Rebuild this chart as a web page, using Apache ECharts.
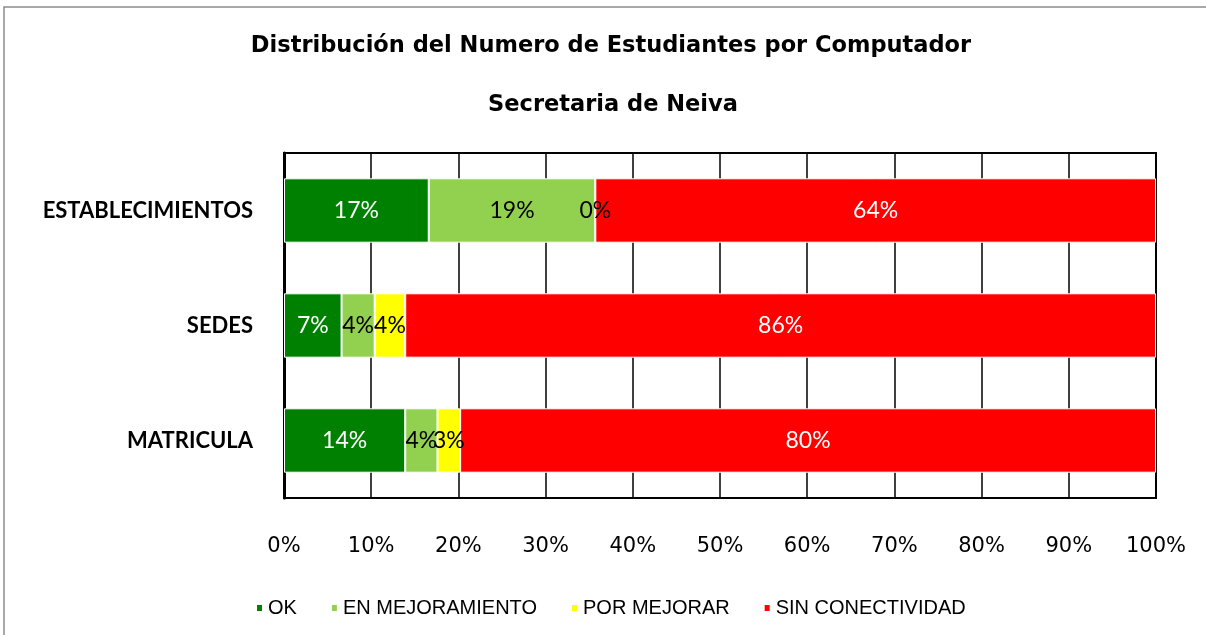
<!DOCTYPE html>
<html>
<head>
<meta charset="utf-8">
<script src="https://cdn.jsdelivr.net/npm/echarts@6/dist/echarts.min.js"></script>
<style>
  html, body { margin: 0; padding: 0; background: #fff; }
  #chart { width: 1206px; height: 635px; }
</style>
</head>
<body>
<div id="chart"></div>
<script>
// rows, top to bottom
var categories = ['ESTABLECIMIENTOS', 'SEDES', 'MATRICULA'];
var seriesNames = ['OK', 'EN MEJORAMIENTO', 'POR MEJORAR', 'SIN CONECTIVIDAD'];
// percent shares
var okValues = [16.6, 6.6, 13.9];
var enMejValues = [19.1, 3.8, 3.7];
var porMejValues = [0.0, 3.5, 2.6];
var sinConValues = [64.3, 86.1, 79.8];
var xTicks = [0, 10, 20, 30, 40, 50, 60, 70, 80, 90, 100];

var colors = ['#008000', '#92D050', '#FFFF00', '#FF0000'];
var labelColors = ['#fff', '#000', '#000', '#fff'];
var allValues = [okValues, enMejValues, porMejValues, sinConValues];

var myChart = echarts.init(document.getElementById('chart'));

var series = [];
for (var i = 0; i < seriesNames.length; i++) {
  series.push({
    name: seriesNames[i],
    type: 'bar',
    stack: 'total',
    barCategoryGap: '44%',
    data: allValues[i],
    itemStyle: { color: colors[i], borderColor: '#fff', borderWidth: 1 },
    label: {
      show: true,
      position: 'inside',
      color: labelColors[i],
      fontFamily: 'Lato',
      fontSize: 23,
      formatter: function (p) { return Math.round(p.value) + '%'; }
    }
  });
}

var titleStyle = { fontFamily: 'DejaVu Sans', fontWeight: 'bold', fontSize: 22.5, color: '#000' };

var option = {
  animation: false,
  color: colors,
  title: [{
    text: 'Distribución del Numero de Estudiantes por Computador',
    left: 611,
    top: 35,
    padding: 0,
    textAlign: 'center',
    textStyle: titleStyle
  }, {
    text: 'Secretaria de Neiva',
    left: 613,
    top: 94,
    padding: 0,
    textAlign: 'center',
    textStyle: titleStyle
  }],
  graphic: [{
    type: 'rect',
    shape: { x: 4, y: 7, width: 1230, height: 700 },
    style: { fill: 'none', stroke: '#8c8c8c', lineWidth: 1.5 },
    silent: true
  }],
  legend: {
    top: 593,
    left: 250,
    itemWidth: 7,
    itemHeight: 8,
    itemGap: 33,
    icon: 'rect',
    data: seriesNames,
    textStyle: { fontFamily: 'Liberation Sans', fontSize: 20, color: '#000' }
  },
  grid: {
    left: 284,
    right: 50,
    top: 153,
    bottom: 137,
    show: true,
    borderColor: '#000',
    borderWidth: 2
  },
  xAxis: {
    type: 'value',
    min: xTicks[0],
    max: xTicks[xTicks.length - 1],
    interval: 10,
    axisLine: { show: false },
    axisTick: { show: false },
    splitLine: { show: true, lineStyle: { color: '#000', width: 1.5 } },
    axisLabel: {
      margin: 38,
      fontFamily: 'DejaVu Sans',
      fontSize: 21,
      color: '#000',
      formatter: '{value}%'
    }
  },
  yAxis: {
    type: 'category',
    inverse: true,
    data: categories,
    axisLine: { show: true, lineStyle: { color: '#000', width: 3 } },
    axisTick: { show: false },
    axisLabel: {
      margin: 31,
      fontFamily: 'Lato',
      fontWeight: 'bold',
      fontSize: 22,
      color: '#000'
    }
  },
  series: series
};

myChart.setOption(option);
</script>
</body>
</html>
